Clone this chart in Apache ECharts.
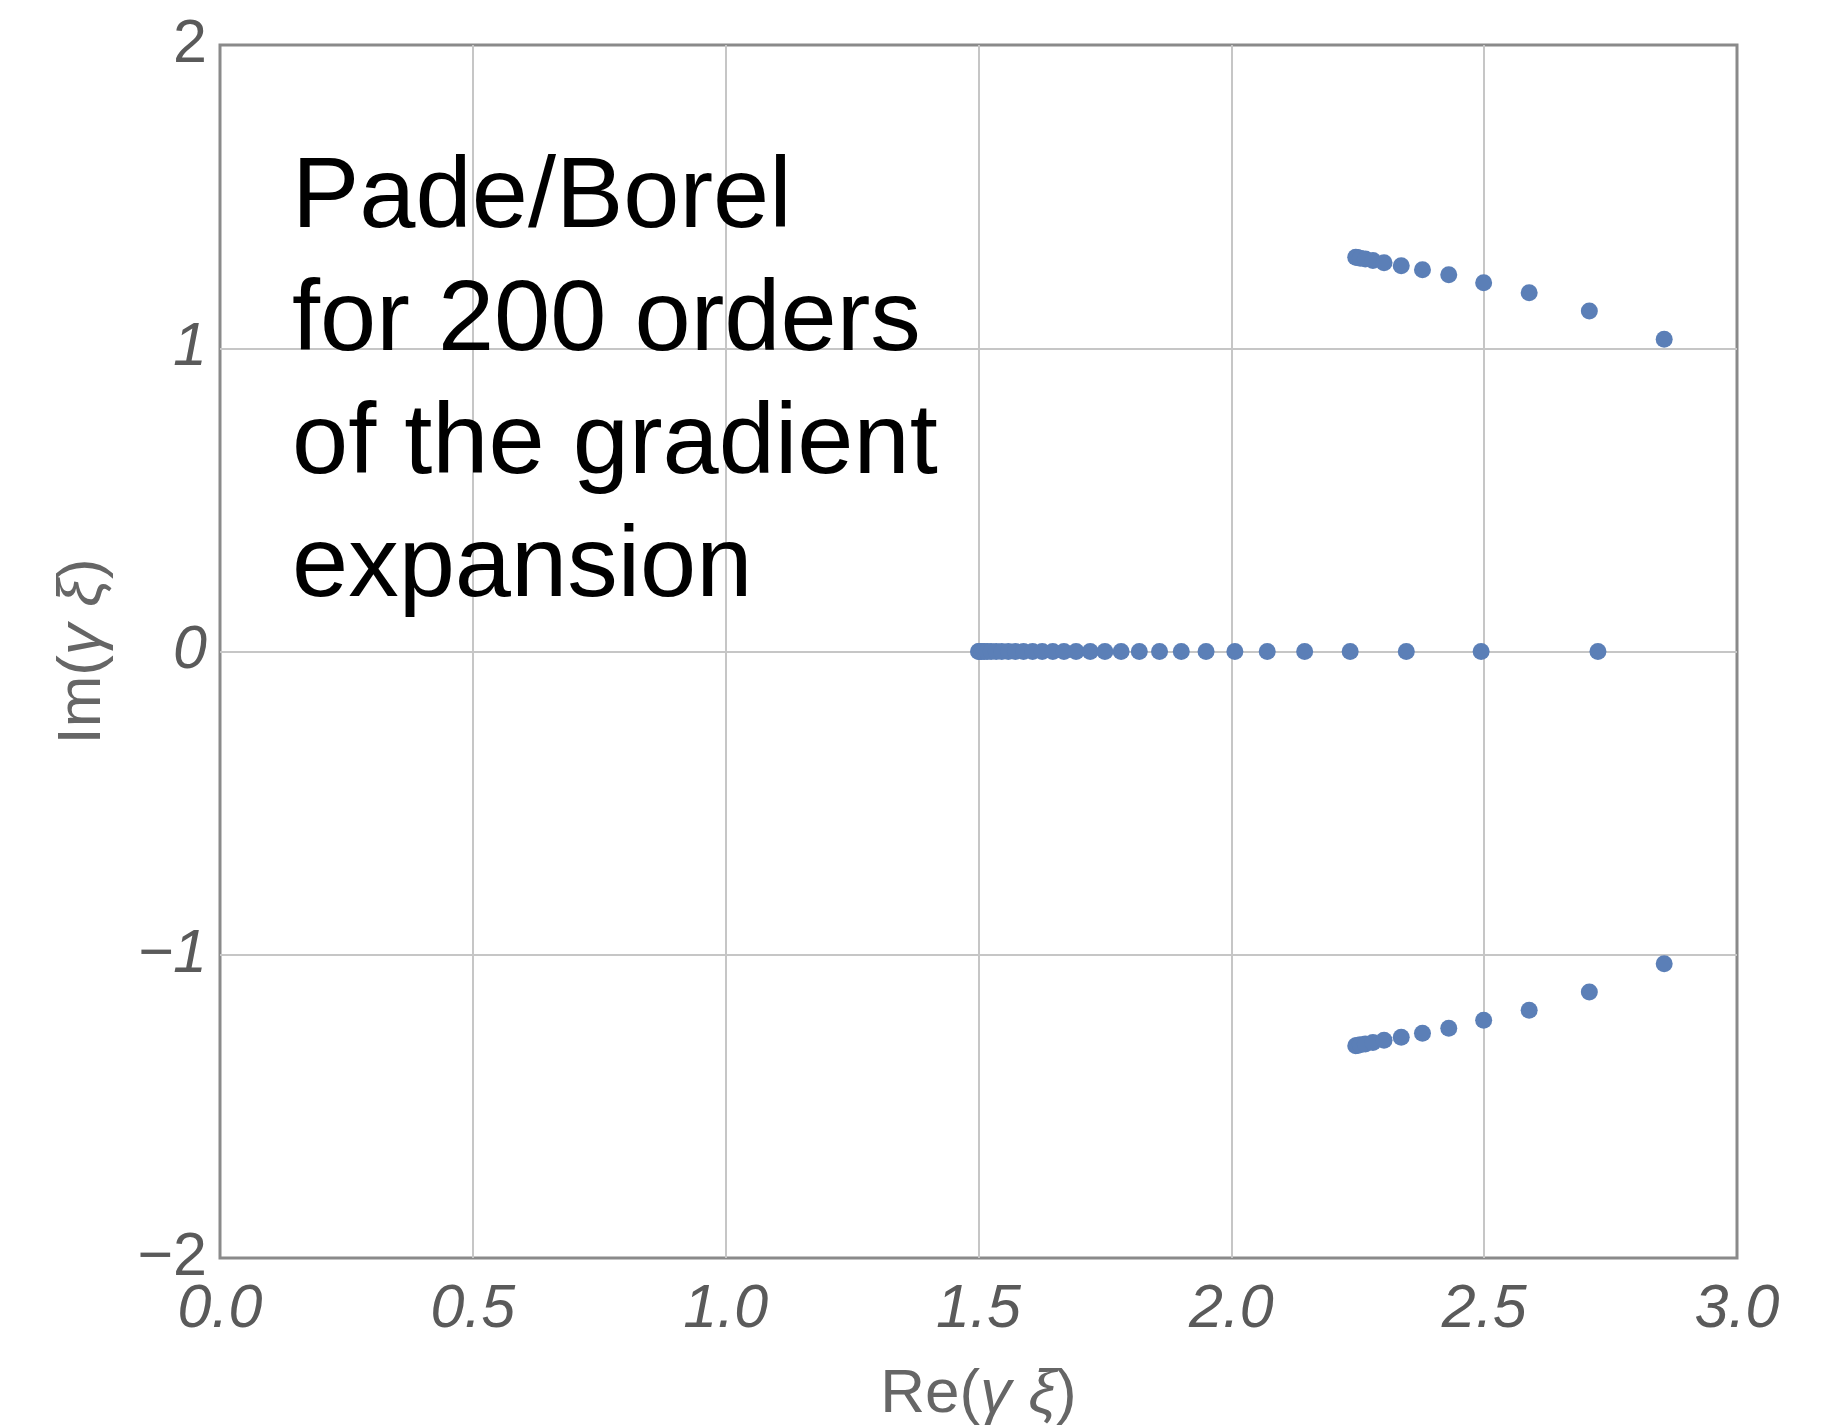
<!DOCTYPE html>
<html>
<head>
<meta charset="utf-8">
<title>Pade/Borel poles</title>
<script src="https://cdn.jsdelivr.net/npm/echarts@6/dist/echarts.min.js"></script>
<style>
  html, body { margin: 0; padding: 0; background: #ffffff; }
  #chart { width: 1834px; height: 1426px; }
</style>
</head>
<body>
<div id="chart"></div>
<script>
// Poles of the Pade approximant of the Borel transform, in the complex (γ ξ) plane.

// Poles on the real axis (Im = 0), accumulating toward the branch point at 1.5
const realAxisRe = [
  1.500, 1.502, 1.506, 1.511, 1.517, 1.525, 1.535, 1.546, 1.559, 1.573,
  1.589, 1.607, 1.626, 1.647, 1.669, 1.693, 1.721, 1.750, 1.782, 1.818,
  1.858, 1.901, 1.950, 2.007, 2.071, 2.145, 2.235, 2.346, 2.494, 2.725
];
const realAxisIm = [
  0, 0, 0, 0, 0, 0, 0, 0, 0, 0,
  0, 0, 0, 0, 0, 0, 0, 0, 0, 0,
  0, 0, 0, 0, 0, 0, 0, 0, 0, 0
];

// Upper branch of complex poles
const upperRe = [2.246, 2.249, 2.255, 2.265, 2.280, 2.302, 2.336, 2.378, 2.430, 2.499, 2.589, 2.708, 2.856];
const upperIm = [1.300, 1.299, 1.297, 1.294, 1.289, 1.282, 1.272, 1.259, 1.242, 1.216, 1.183, 1.123, 1.030];

// Lower branch of complex poles
const lowerRe = [2.246, 2.249, 2.255, 2.265, 2.280, 2.302, 2.336, 2.378, 2.430, 2.499, 2.589, 2.708, 2.856];
const lowerIm = [-1.300, -1.299, -1.297, -1.294, -1.289, -1.282, -1.272, -1.259, -1.242, -1.216, -1.183, -1.123, -1.030];

// Axis ticks
const xTicks = [0.0, 0.5, 1.0, 1.5, 2.0, 2.5, 3.0];
const yTicks = [-2, -1, 0, 1, 2];

const annotationLines = ['Pade/Borel', 'for 200 orders', 'of the gradient', 'expansion'];

const pairs = (xs, ys) => xs.map((x, i) => [x, ys[i]]);

const dotColor = '#5b7fb7';
const labelColor = '#5a5a5a';
const gridColor = '#c6c6c6';
const frameColor = '#8a8a8a';
const font = '"Liberation Sans", Arial, sans-serif';

const chart = echarts.init(document.getElementById('chart'), null, { renderer: 'canvas' });

const scatterSeries = (name, data) => ({
  name: name,
  type: 'scatter',
  data: data,
  symbol: 'circle',
  symbolSize: 17,
  itemStyle: { color: dotColor, opacity: 1 },
  emphasis: { disabled: true },
  z: 3
});

const gridLine = {
  show: true,
  showMinLine: false,
  showMaxLine: false,
  lineStyle: { color: gridColor, width: 2 }
};

chart.setOption({
  animation: false,
  backgroundColor: '#ffffff',
  grid: {
    left: 220, right: 97, top: 45, bottom: 168,
    containLabel: false,
    outerBoundsMode: 'none',
    show: true, borderColor: frameColor, borderWidth: 3,
    backgroundColor: 'transparent'
  },
  xAxis: {
    type: 'value',
    min: xTicks[0], max: xTicks[xTicks.length - 1], interval: 0.5,
    name: '{a|Re(}{b|γ ξ}{a|)}',
    nameLocation: 'middle',
    nameGap: 106,
    nameTextStyle: {
      rich: {
        a: { fontFamily: font, fontSize: 62, color: '#666666' },
        b: { fontFamily: font, fontSize: 62, color: '#666666', fontStyle: 'italic' }
      }
    },
    axisLine: { show: false },
    axisTick: { show: false },
    splitLine: gridLine,
    axisLabel: {
      margin: 22,
      fontFamily: font, fontSize: 61, fontStyle: 'italic', color: labelColor,
      formatter: v => v.toFixed(1)
    }
  },
  yAxis: {
    type: 'value',
    min: yTicks[0], max: yTicks[yTicks.length - 1], interval: 1,
    name: '{a|Im(}{b|γ ξ}{a|)}',
    nameLocation: 'middle',
    nameGap: 106,
    nameTextStyle: {
      rich: {
        a: { fontFamily: font, fontSize: 62, color: '#666666' },
        b: { fontFamily: font, fontSize: 62, color: '#666666', fontStyle: 'italic' }
      }
    },
    axisLine: { show: false },
    axisTick: { show: false },
    splitLine: gridLine,
    axisLabel: {
      margin: 13,
      formatter: v => {
        const s = (v < 0 ? '\u2212' : '') + Math.abs(v);
        return Math.abs(v) === 2 ? '{u|' + s + '}' : '{i|' + s + '}';
      },
      rich: {
        u: { fontFamily: font, fontSize: 61, color: labelColor },
        i: { fontFamily: font, fontSize: 61, color: labelColor, fontStyle: 'italic' }
      }
    }
  },
  series: [
    scatterSeries('real axis', pairs(realAxisRe, realAxisIm)),
    scatterSeries('upper branch', pairs(upperRe, upperIm)),
    scatterSeries('lower branch', pairs(lowerRe, lowerIm))
  ],
  graphic: [{
    type: 'text',
    left: 292,
    top: 138,
    z: 10,
    style: {
      text: annotationLines.join('\n'),
      fontFamily: font,
      fontSize: 101,
      lineHeight: 123,
      fill: '#000000'
    }
  }]
});
</script>
</body>
</html>
